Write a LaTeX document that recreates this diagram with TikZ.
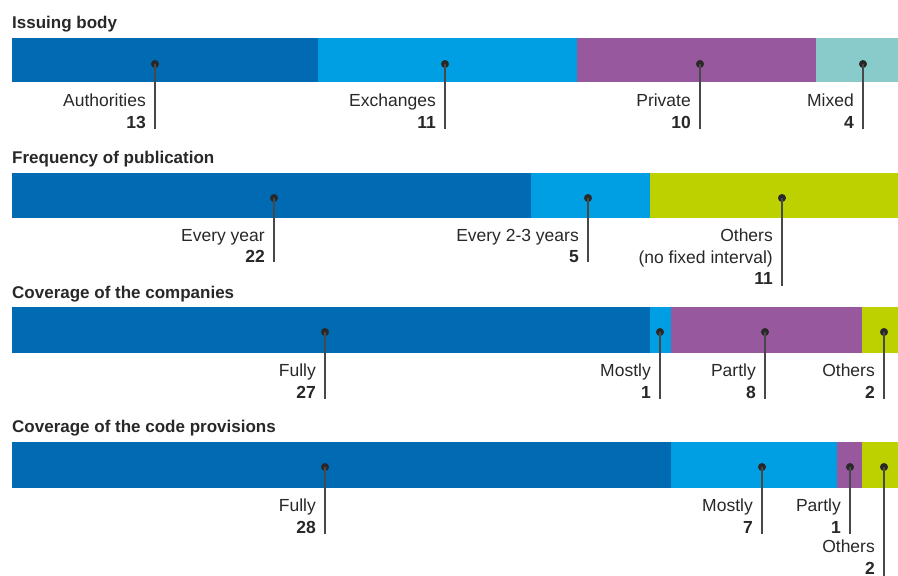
\documentclass[tikz,border=0pt]{standalone}
\usepackage{fontspec}
\setmainfont{Liberation Sans}
\usepackage{tikz}
\usepackage{xcolor}

\definecolor{darkblue}{RGB}{0,106,179}
\definecolor{lightblue}{RGB}{0,159,227}
\definecolor{purplebar}{RGB}{152,88,158}
\definecolor{mintbar}{RGB}{137,203,203}
\definecolor{limebar}{RGB}{189,208,0}
\definecolor{txt}{RGB}{40,40,40}

\tikzset{
    bartitle/.style={anchor=base west, inner sep=0, text=txt, font=\bfseries\fontsize{17}{21}\selectfont},
    barlabel/.style={anchor=north east, inner sep=0, align=right, text=txt, font=\fontsize{17.5}{21.5}\selectfont},
    bardot/.style={circle, fill=txt, draw=txt, inner sep=0, minimum size=7.5pt},
    pinline/.style={draw=txt!85, line width=1.3pt},
}

\begin{document}
\begin{tikzpicture}[x=1pt,y=-1pt]
        \useasboundingbox (0,0) rectangle (898,576);

        \node[bartitle] (issuing) at (12,28) {Issuing body};
        \fill[darkblue] (12,38) rectangle (318,82);
        \fill[lightblue] (318,38) rectangle (577,82);
        \fill[purplebar] (577,38) rectangle (816,82);
        \fill[mintbar] (816,38) rectangle (898,82);

        \node[bardot] (authdot) at (155,64) {};
        \node[bardot] (exchdot) at (445,64) {};
        \node[bardot] (privdot) at (700,64) {};
        \node[bardot] (mixdot) at (863,64) {};
        \coordinate (authend) at (155,129);
        \coordinate (exchend) at (445,129);
        \coordinate (privend) at (700,129);
        \coordinate (mixend) at (863,129);
        \draw[pinline] (authdot.center) -- (authend);
        \draw[pinline] (exchdot.center) -- (exchend);
        \draw[pinline] (privdot.center) -- (privend);
        \draw[pinline] (mixdot.center) -- (mixend);
        \node[barlabel] (auth) at (146,94) {Authorities\\\textbf{13}};
        \node[barlabel] (exch) at (436,94) {Exchanges\\\textbf{11}};
        \node[barlabel] (priv) at (691,94) {Private\\\textbf{10}};
        \node[barlabel] (mix) at (854,94) {Mixed\\\textbf{4}};

        \node[bartitle] (frequency) at (12,163) {Frequency of publication};
        \fill[darkblue] (12,173) rectangle (531,218);
        \fill[lightblue] (531,173) rectangle (650,218);
        \fill[limebar] (650,173) rectangle (898,218);

        \node[bardot] (yeardot) at (274,198) {};
        \node[bardot] (twothreedot) at (588,198) {};
        \node[bardot] (otherfreqdot) at (782,198) {};
        \coordinate (yearend) at (274,262);
        \coordinate (twothreeend) at (588,262);
        \coordinate (otherfreqend) at (782,286);
        \draw[pinline] (yeardot.center) -- (yearend);
        \draw[pinline] (twothreedot.center) -- (twothreeend);
        \draw[pinline] (otherfreqdot.center) -- (otherfreqend);
        \node[barlabel] (year) at (265,229) {Every year\\\textbf{22}};
        \node[barlabel] (twothree) at (579,229) {Every 2-3 years\\\textbf{5}};
        \node[barlabel] (otherfreq) at (773,229) {Others\\(no fixed interval)\\\textbf{11}};

        \node[bartitle] (companies) at (12,298) {Coverage of the companies};
        \fill[darkblue] (12,307) rectangle (650,353);
        \fill[lightblue] (650,307) rectangle (671,353);
        \fill[purplebar] (671,307) rectangle (862,353);
        \fill[limebar] (862,307) rectangle (898,353);

        \node[bardot] (cfullydot) at (325,332) {};
        \node[bardot] (cmostlydot) at (660,332) {};
        \node[bardot] (cpartlydot) at (765,332) {};
        \node[bardot] (cothersdot) at (884,332) {};
        \coordinate (cfullyend) at (325,399);
        \coordinate (cmostlyend) at (660,399);
        \coordinate (cpartlyend) at (765,399);
        \coordinate (cothersend) at (884,399);
        \draw[pinline] (cfullydot.center) -- (cfullyend);
        \draw[pinline] (cmostlydot.center) -- (cmostlyend);
        \draw[pinline] (cpartlydot.center) -- (cpartlyend);
        \draw[pinline] (cothersdot.center) -- (cothersend);
        \node[barlabel] (cfully) at (316,364) {Fully\\\textbf{27}};
        \node[barlabel] (cmostly) at (651,364) {Mostly\\\textbf{1}};
        \node[barlabel] (cpartly) at (756,364) {Partly\\\textbf{8}};
        \node[barlabel] (cothers) at (875,364) {Others\\\textbf{2}};

        \node[bartitle] (provisions) at (12,432) {Coverage of the code provisions};
        \fill[darkblue] (12,442) rectangle (671,488);
        \fill[lightblue] (671,442) rectangle (837,488);
        \fill[purplebar] (837,442) rectangle (862,488);
        \fill[limebar] (862,442) rectangle (898,488);

        \node[bardot] (pfullydot) at (325,467) {};
        \node[bardot] (pmostlydot) at (762,467) {};
        \node[bardot] (ppartlydot) at (850,467) {};
        \node[bardot] (pothersdot) at (884,467) {};
        \coordinate (pfullyend) at (325,534);
        \coordinate (pmostlyend) at (762,534);
        \coordinate (ppartlyend) at (850,534);
        \coordinate (pothersend) at (884,576);
        \draw[pinline] (pfullydot.center) -- (pfullyend);
        \draw[pinline] (pmostlydot.center) -- (pmostlyend);
        \draw[pinline] (ppartlydot.center) -- (ppartlyend);
        \draw[pinline] (pothersdot.center) -- (pothersend);
        \node[barlabel] (pfully) at (316,499) {Fully\\\textbf{28}};
        \node[barlabel] (pmostly) at (753,499) {Mostly\\\textbf{7}};
        \node[barlabel] (ppartly) at (841,499) {Partly\\\textbf{1}};
        \node[barlabel] (pothers) at (875,540) {Others\\\textbf{2}};
    \end{tikzpicture}
\end{document}
